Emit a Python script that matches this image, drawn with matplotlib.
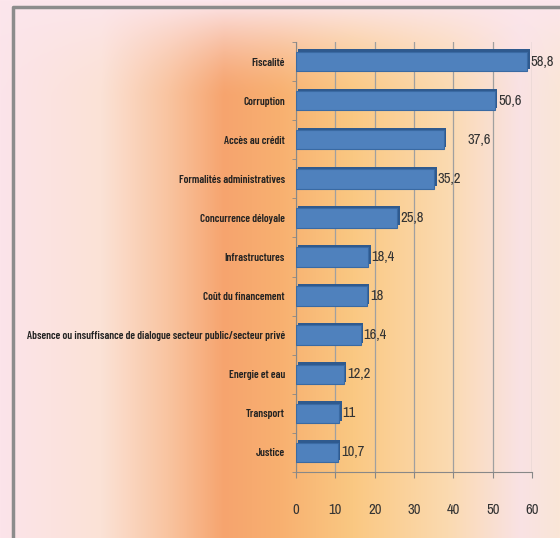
import numpy as np
import matplotlib
matplotlib.use("Agg")
import matplotlib.pyplot as plt

categories = ["Fiscalité", "Corruption", "Accès au crédit", "Formalités administratives",
              "Concurrence déloyale", "Infrastructures", "Coût du financement",
              "Absence ou insuffisance de dialogue secteur public/secteur privé",
              "Energie et eau", "Transport", "Justice"]
values = [58.8, 50.6, 37.6, 35.2, 25.8, 18.4, 18, 16.4, 12.2, 11, 10.7]
value_labels = ["58,8", "50,6", "37,6", "35,2", "25,8", "18,4", "18", "16,4", "12,2", "11", "10,7"]
xticks = [0, 10, 20, 30, 40, 50, 60]

plt.rcParams['font.family'] = ["Barlow Condensed", "Archivo Narrow", "DejaVu Sans"]
narrow = ["Archivo Narrow", "DejaVu Sans"]

fig = plt.figure(figsize=(5.6, 5.38), dpi=100)

# gradient background
W, H = 560, 538
xs = np.linspace(0, 1, W)
stops = [0.0, 0.18, 0.30, 0.40, 0.50, 0.63, 0.80, 0.93, 1.0]
cols = np.array([
    [252, 228, 234], [251, 226, 214], [249, 196, 160], [246, 164, 110],
    [248, 176, 112], [250, 200, 130], [251, 218, 176], [249, 226, 228], [250, 230, 215]]) / 255.0
row = np.stack([np.interp(xs, stops, cols[:, i]) for i in range(3)], axis=1)
img = np.repeat(row[None, :, :], H, axis=0)
ys = np.linspace(0, 1, H)[:, None, None]
pink = np.array([252, 230, 236]) / 255.0
w = np.clip(1 - ys / 0.18, 0, 1) ** 1.5
img = img * (1 - w) + pink * w
bg = fig.add_axes([0, 0, 1, 1])
bg.imshow(img, aspect='auto', extent=[0, W, H, 0])
bg.set_xlim(0, W)
bg.set_ylim(H, 0)
bg.axis('off')
bg.plot([13, 13, 560], [538, 7, 7], color="#8c8c8c", lw=2.5)

ax = fig.add_axes([296 / W, 1 - 472 / H, (532 - 296) / W, (472 - 42) / H])
ax.patch.set_alpha(0)
y = np.arange(len(categories))

# depth face then front face
ax.barh(y - 0.06, values, left=0.6, height=0.5, color="#2f5a8e", zorder=3)
ax.barh(y, values, height=0.5, color="#4f81bd", edgecolor="#3a6aa3", lw=0.8, zorder=4)

offsets = [0.8] * len(values)
offsets[2] = 6.0
for yi, v, lab, off in zip(y, values, value_labels, offsets):
    ax.text(v + off, yi, lab, va="center", ha="left", fontsize=10.5, color="#333333",
            family=narrow, zorder=5, clip_on=False)

ax.set_xlim(0, 60)
ax.set_ylim(len(categories) - 0.5, -0.5)
ax.set_yticks(y)
ax.set_yticklabels(categories, fontsize=8, fontweight=600, color="#222222")
ax.tick_params(axis="y", length=0, pad=8)
ax.set_yticks(np.arange(-0.5, len(categories), 1), minor=True)
ax.tick_params(axis="y", which="minor", length=3, color="#888888")
ax.set_xticks(xticks)
ax.set_xticklabels([str(t) for t in xticks], fontsize=10.5, color="#333333", family=narrow)
ax.tick_params(axis="x", length=4, color="#888888", pad=18)
ax.xaxis.grid(True, color="#a0a0a0", lw=0.9, zorder=1)
for s in ["top", "right"]:
    ax.spines[s].set_visible(False)
ax.spines["left"].set_color("#888888")
ax.spines["bottom"].set_color("#888888")

fig.savefig("out.png", dpi=100)
